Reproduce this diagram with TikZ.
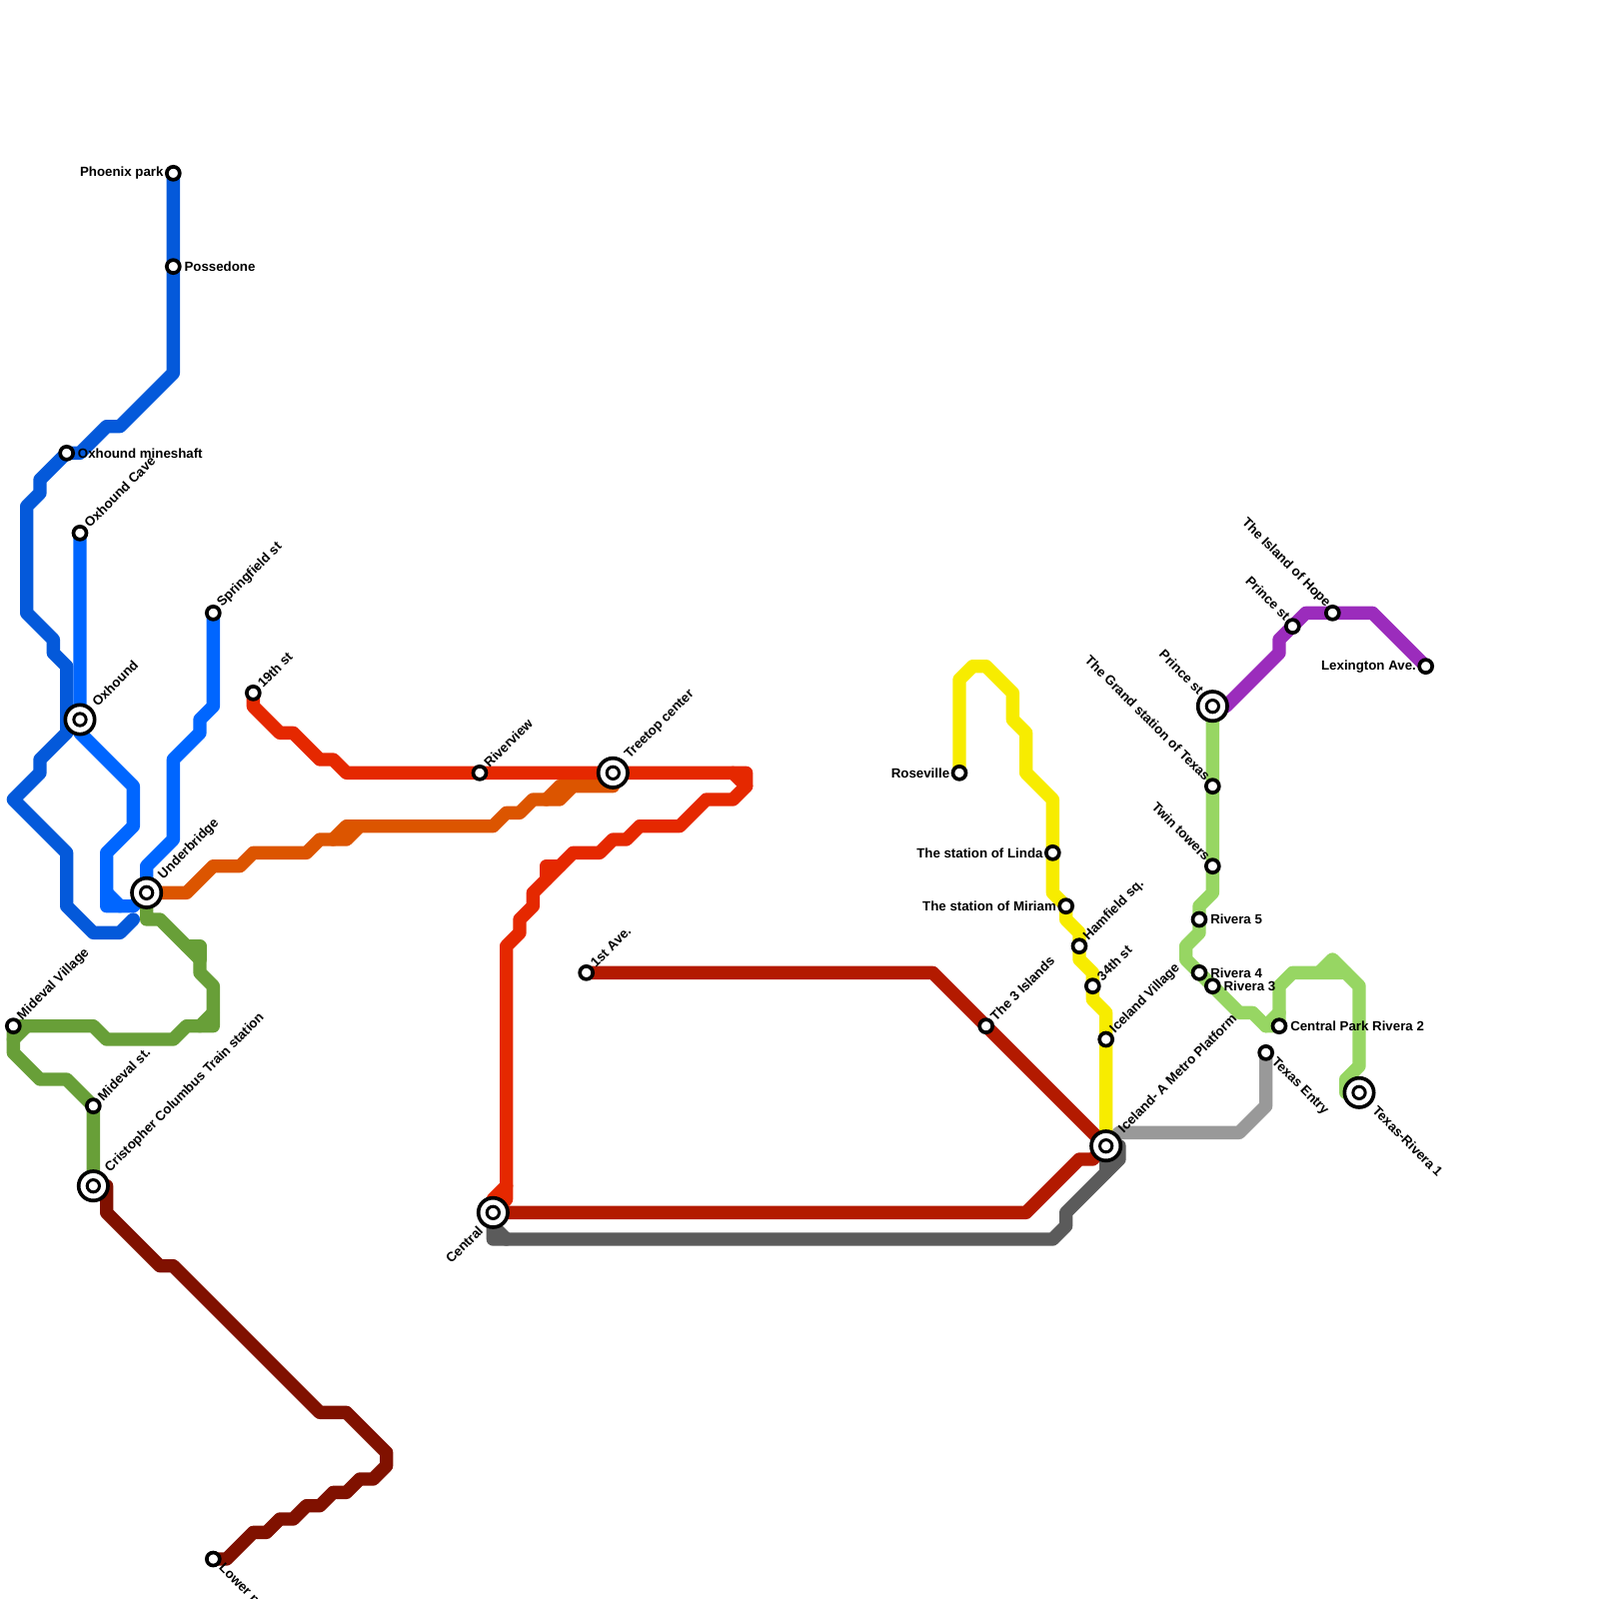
\documentclass[tikz,border=0pt]{standalone}
\usepackage{fontspec}
\setmainfont{Liberation Sans}
\usetikzlibrary{backgrounds}
\definecolor{linenavy}{HTML}{0459DA}
\definecolor{lineblue}{HTML}{0066FF}
\definecolor{lineorange}{HTML}{DC5500}
\definecolor{linered}{HTML}{E52800}
\definecolor{linecrimson}{HTML}{B31A00}
\definecolor{linemaroon}{HTML}{801100}
\definecolor{lineolive}{HTML}{689F38}
\definecolor{linelime}{HTML}{97D663}
\definecolor{lineyellow}{HTML}{F7EC00}
\definecolor{linepurple}{HTML}{9B2CBC}
\definecolor{linegray}{HTML}{5B5B5B}
\definecolor{linesilver}{HTML}{999999}
\tikzset{
  metro/.style={line width=2mm,line cap=round,line join=round},
  station/.style={circle,draw=black,fill=white,line width=.55mm,minimum size=1.95mm,inner sep=0pt},
  hub/.style={circle,draw=black,fill=white,line width=.55mm,minimum size=4.4mm,inner sep=0pt,
    path picture={\draw[black,line width=.45mm] (path picture bounding box.center) circle (.92mm);}},
  lab/.style={font=\fontsize{5.67}{6.5}\selectfont\bfseries,inner sep=0pt},
  eastlab/.style={lab,anchor=west,xshift=4.6pt},
  westlab/.style={lab,anchor=east,xshift=-4pt},
  nelab/.style={lab,rotate=45,anchor=west,xshift=4.2pt,yshift=.4pt},
  selab/.style={lab,rotate=-45,anchor=west,xshift=4.4pt},
  nwlab/.style={lab,rotate=-45,anchor=east,xshift=-3.6pt,yshift=1pt},
  swlab/.style={lab,rotate=45,anchor=east,xshift=-3.4pt,yshift=-1pt},
  bigne/.style={nelab,xshift=4.7pt},
  bigse/.style={selab,xshift=5pt},
  bignw/.style={nwlab,xshift=-4pt},
  bigsw/.style={swlab,xshift=-5pt}
}
\begin{document}
\begin{tikzpicture}[x=2mm,y=-2mm]
  \useasboundingbox (0,0) rectangle (120,120);
  \node[station] (phoenix) at (13,13) {};
  \node[station] (possedone) at (13,20) {};
  \node[station] (mineshaft) at (5,34) {};
  \node[station] (oxcave) at (6,40) {};
  \node[hub] (oxhound) at (6,54) {};
  \node[station] (springfield) at (16,46) {};
  \node[station] (nineteenth) at (19,52) {};
  \node[hub] (underbridge) at (11,67) {};
  \node[station] (midvillage) at (1,77) {};
  \node[station] (midst) at (7,83) {};
  \node[hub] (cristopher) at (7,89) {};
  \node[station] (lower) at (16,117) {};
  \node[station] (riverview) at (36,58) {};
  \node[hub] (treetop) at (46,58) {};
  \node[station] (firstave) at (44,73) {};
  \node[hub] (central) at (37,91) {};
  \node[station] (islands) at (74,77) {};
  \node[station] (roseville) at (72,58) {};
  \node[station] (linda) at (79,64) {};
  \node[station] (miriam) at (80,68) {};
  \node[station] (hamfield) at (81,71) {};
  \node[station] (thirtyfourth) at (82,74) {};
  \node[station] (icevillage) at (83,78) {};
  \node[hub] (iceland) at (83,86) {};
  \node[hub] (princehub) at (91,53) {};
  \node[station] (grand) at (91,59) {};
  \node[station] (twin) at (91,65) {};
  \node[station] (rivfive) at (90,69) {};
  \node[station] (rivfour) at (90,73) {};
  \node[station] (rivthree) at (91,74) {};
  \node[station] (rivtwo) at (96,77) {};
  \node[hub] (rivone) at (102,82) {};
  \node[station] (entry) at (95,79) {};
  \node[station] (princest) at (97,47) {};
  \node[station] (hope) at (100,46) {};
  \node[station] (lexington) at (107,50) {};

  \node[westlab] (phoenixlab) at (phoenix) {Phoenix park};
  \node[eastlab] (possedonelab) at (possedone) {Possedone};
  \node[eastlab] (mineshaftlab) at (mineshaft) {Oxhound mineshaft};
  \node[nelab] (oxcavelab) at (oxcave) {Oxhound Cave};
  \node[bigne] (oxhoundlab) at (oxhound) {Oxhound};
  \node[nelab] (springfieldlab) at (springfield) {Springfield st};
  \node[nelab] (nineteenthlab) at (nineteenth) {19th st};
  \node[bigne] (underbridgelab) at (underbridge) {Underbridge};
  \node[nelab] (midvillagelab) at (midvillage) {Mideval Village};
  \node[nelab] (midstlab) at (midst) {Mideval st.};
  \node[bigne] (cristopherlab) at (cristopher) {Cristopher Columbus Train station};
  \node[selab] (lowerlab) at (lower) {Lower p};
  \node[nelab] (riverviewlab) at (riverview) {Riverview};
  \node[bigne] (treetoplab) at (treetop) {Treetop center};
  \node[nelab] (firstavelab) at (firstave) {1st Ave.};
  \node[bigsw] (centrallab) at (central) {Central};
  \node[nelab] (islandslab) at (islands) {The 3 Islands};
  \node[westlab] (rosevillelab) at (roseville) {Roseville};
  \node[westlab] (lindalab) at (linda) {The station of Linda};
  \node[westlab] (miriamlab) at (miriam) {The station of Miriam};
  \node[nelab] (hamfieldlab) at (hamfield) {Hamfield sq.};
  \node[nelab] (thirtyfourthlab) at (thirtyfourth) {34th st};
  \node[nelab] (icevillagelab) at (icevillage) {Iceland Village};
  \node[bigne] (icelandlab) at (iceland) {Iceland- A Metro Platform};
  \node[bignw] (princehublab) at (princehub) {Prince st};
  \node[nwlab] (grandlab) at (grand) {The Grand station of Texas};
  \node[nwlab] (twinlab) at (twin) {Twin towers};
  \node[eastlab] (rivfivelab) at (rivfive) {Rivera 5};
  \node[eastlab] (rivfourlab) at (rivfour) {Rivera 4};
  \node[eastlab] (rivthreelab) at (rivthree) {Rivera 3};
  \node[eastlab] (rivtwolab) at (rivtwo) {Central Park Rivera 2};
  \node[bigse] (rivonelab) at (rivone) {Texas-Rivera 1};
  \node[selab] (entrylab) at (entry) {Texas Entry};
  \node[nwlab] (princestlab) at (princest) {Prince st};
  \node[nwlab] (hopelab) at (hope) {The Island of Hope};
  \node[westlab] (lexingtonlab) at (lexington) {Lexington Ave.};

  \begin{scope}[on background layer]
    \draw[metro,linecrimson] (firstave.center) -- (70,73) -- (iceland.center) -- (82,87) -- (81,87) -- (77,91) -- (central.center);
    \draw[metro,linegray] (central.center) -- (37,93) -- (79,93) -- (80,92) -- (80,91) -- (84,87) -- (84,86) -- (iceland.center);
    \draw[metro,linegray] (37,92) -- (38,93);
    \draw[metro,linegray] (iceland.center) -- (83,88);
    \draw[metro,linesilver] (entry.center) -- (95,83) -- (93,85) -- (84,85) -- (iceland.center);
    \draw[metro,lineyellow] (roseville.center) -- (72,51) -- (73,50) -- (74,50) -- (76,52) -- (76,54) -- (77,55) -- (77,58) -- (79,60) -- (linda.center) -- (79,67) -- (miriam.center) -- (80,69) -- (81,70) -- (hamfield.center) -- (81,72) -- (82,73) -- (thirtyfourth.center) -- (82,75) -- (83,76) -- (icevillage.center) -- (iceland.center);
    \draw[metro,linelime] (princehub.center) -- (grand.center) -- (twin.center) -- (91,67) -- (90,68) -- (rivfive.center) -- (90,70) -- (89,71) -- (89,72) -- (rivfour.center) -- (rivthree.center) -- (93,76) -- (94,76) -- (95,77) -- (rivtwo.center) -- (96,74) -- (97,73) -- (101,73) -- (102,74) -- (102,80) -- (101,81) -- (101,82) -- (rivone.center);
    \draw[metro,linelime] (95,77) -- (96,76);
    \draw[metro,linelime] (99,73) -- (100,72) -- (101,73);
    \draw[metro,linepurple] (princehub.center) -- (92,53) -- (96,49) -- (96,48) -- (princest.center) -- (98,46) -- (hope.center) -- (103,46) -- (lexington.center);
    \draw[metro,linenavy] (phoenix.center) -- (possedone.center) -- (13,28) -- (9,32) -- (8,32) -- (6,34) -- (mineshaft.center) -- (3,36) -- (3,37) -- (2,38) -- (2,46) -- (4,48) -- (4,49) -- (5,50) -- (5,55) -- (3,57) -- (3,58) -- (1,60) -- (5,64) -- (5,68) -- (7,70) -- (9,70) -- (10,69);
    \draw[metro,lineblue] (oxcave.center) -- (oxhound.center) -- (6,55) -- (10,59) -- (10,62) -- (8,64) -- (8,68) -- (10,68) -- (underbridge.center);
    \draw[metro,lineblue] (8,67) -- (9,68);
    \draw[metro,lineblue] (springfield.center) -- (16,53) -- (15,54) -- (15,55) -- (13,57) -- (13,63) -- (11,65) -- (underbridge.center);
    \draw[metro,lineorange] (underbridge.center) -- (14,67) -- (16,65) -- (18,65) -- (19,64) -- (23,64) -- (24,63) -- (26,63) -- (27,62) -- (37,62) -- (38,61) -- (39,61) -- (40,60) -- (42,60) -- (43,59) -- (46,59) -- (treetop.center);
    \draw[metro,lineorange] (25,63) -- (26,62) -- (27,62);
    \draw[metro,lineorange] (41,60) -- (42,59) -- (43,59);
    \draw[metro,linered] (nineteenth.center) -- (19,53) -- (21,55) -- (22,55) -- (24,57) -- (25,57) -- (26,58) -- (riverview.center) -- (treetop.center) -- (56,58) -- (56,59) -- (55,60) -- (53,60) -- (51,62) -- (48,62) -- (47,63) -- (46,63) -- (45,64) -- (43,64) -- (40,67) -- (40,68) -- (39,69) -- (39,70) -- (38,71) -- (38,90) -- (central.center);
    \draw[metro,linered] (38,89) -- (37,90) -- (central.center);
    \draw[metro,linered] (55,58) -- (56,59);
    \draw[metro,linered] (42,65) -- (41,65) -- (41,66);
    \draw[metro,lineolive] (underbridge.center) -- (11,69) -- (12,69) -- (15,72) -- (15,73) -- (16,74) -- (16,77) -- (14,77) -- (13,78) -- (8,78) -- (7,77) -- (midvillage.center) -- (1,79) -- (3,81) -- (5,81) -- (midst.center) -- (cristopher.center);
    \draw[metro,lineolive] (14,71) -- (15,71) -- (15,72);
    \draw[metro,lineolive] (15,77) -- (16,76);
    \draw[metro,lineolive] (1,78) -- (2,77);
    \draw[metro,linemaroon] (cristopher.center) -- (8,89) -- (8,91) -- (12,95) -- (13,95) -- (24,106) -- (26,106) -- (29,109) -- (29,110) -- (28,111) -- (27,111) -- (26,112) -- (25,112) -- (24,113) -- (23,113) -- (22,114) -- (21,114) -- (20,115) -- (19,115) -- (17,117) -- (lower.center);
  \end{scope}
\end{tikzpicture}
\end{document}
